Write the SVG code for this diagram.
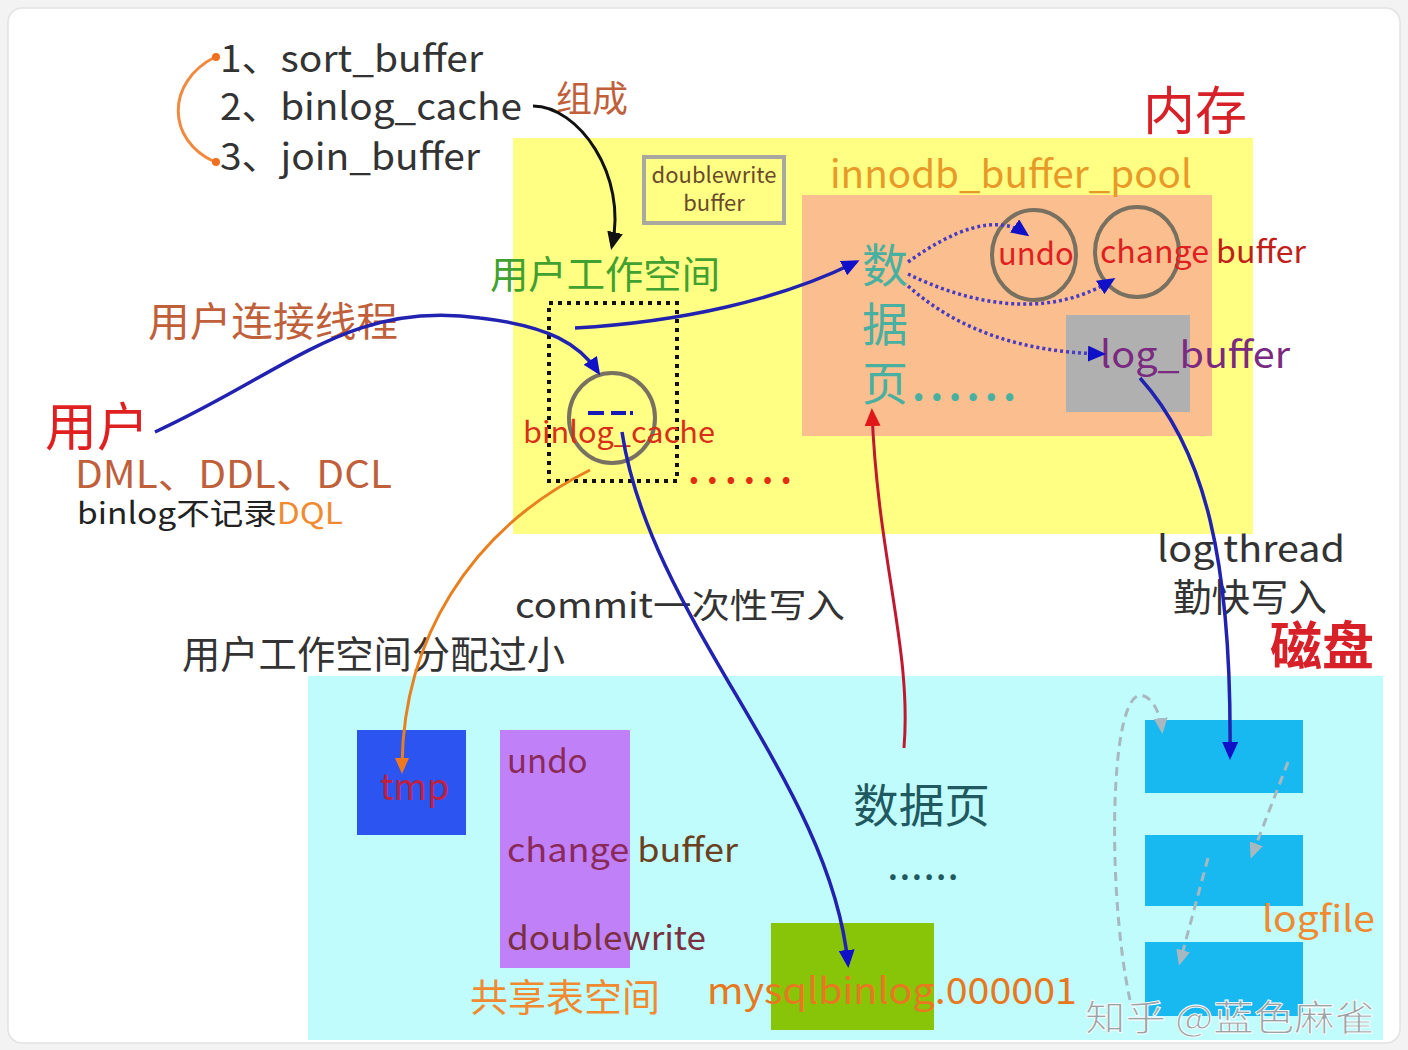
<svg xmlns="http://www.w3.org/2000/svg" width="1408" height="1050" viewBox="0 0 1408 1050">
<style>
text{font-family:"Noto Sans CJK SC","Noto Sans",sans-serif;}
.dk{fill:#333333}
.br{fill:#c0603a}
.rd{fill:#d82028}
.og{fill:#f08a30}
.blue{fill:none;stroke:#2222b0;stroke-width:3.5}
.dot{fill:none;stroke:#4a3cc0;stroke-width:3.5;stroke-dasharray:3 3}
.gd{fill:none;stroke:#a8b8c0;stroke-width:3;stroke-dasharray:9 6}
.ring{fill:none;stroke:#787060;stroke-width:4}
</style>
<defs>
<marker id="abig" markerWidth="18" markerHeight="16" refX="14" refY="8" orient="auto" markerUnits="userSpaceOnUse" viewBox="0 0 18 16"><path d="M0,0 L18,8 L0,16 z" fill="#1010c8"/></marker>
<marker id="ak" markerWidth="18" markerHeight="16" refX="14" refY="8" orient="auto" markerUnits="userSpaceOnUse" viewBox="0 0 18 16"><path d="M0,0 L18,8 L0,16 z" fill="#111111"/></marker>
<marker id="ao" markerWidth="16" markerHeight="14" refX="12" refY="7" orient="auto" markerUnits="userSpaceOnUse" viewBox="0 0 16 14"><path d="M0,0 L16,7 L0,14 z" fill="#f07820"/></marker>
<marker id="ar" markerWidth="18" markerHeight="16" refX="14" refY="8" orient="auto" markerUnits="userSpaceOnUse" viewBox="0 0 18 16"><path d="M0,0 L18,8 L0,16 z" fill="#e01818"/></marker>
<marker id="ag" markerWidth="16" markerHeight="14" refX="12" refY="7" orient="auto" markerUnits="userSpaceOnUse" viewBox="0 0 16 14"><path d="M0,0 L16,7 L0,14 z" fill="#a8b8c0"/></marker>
</defs>
<rect x="0" y="0" width="1408" height="1050" fill="#f3f3f3"/>
<rect x="8" y="8" width="1392" height="1035" rx="14" fill="#ffffff" stroke="#e2e2e2" stroke-width="1.5"/>

<g id="memory">
<rect x="513" y="138" width="740" height="396" fill="#ffff84"/>
<text x="1143" y="130" font-size="52" class="rd">内存</text>
</g>
<g id="doublewrite-buffer">
<rect x="644" y="157" width="140" height="66" fill="#ffff84" stroke="#a8a8a0" stroke-width="4"/>
<text x="714" y="183" font-size="22" fill="#6a4a2a" text-anchor="middle">doublewrite</text>
<text x="714" y="211" font-size="22" fill="#6a4a2a" text-anchor="middle">buffer</text>
</g>
<g id="buffer-pool">
<rect x="802" y="195" width="410" height="241" fill="#fbbe8e"/>
<text x="830" y="188" font-size="38" fill="#e89a28" textLength="362" lengthAdjust="spacingAndGlyphs">innodb_buffer_pool</text>
</g>
<g id="data-page-mem">
<text x="862" y="282" font-size="46" fill="#48b0a0">数</text>
<text x="862" y="341" font-size="46" fill="#48b0a0">据</text>
<text x="862" y="400" font-size="46" fill="#48b0a0">页</text>
<text x="912" y="400" font-size="40" font-weight="bold" fill="#48b0a0" textLength="104" lengthAdjust="spacing">......</text>
</g>
<g id="undo-mem">
<ellipse cx="1034" cy="255" rx="42" ry="45" class="ring"/>
<text x="998" y="265" font-size="31" fill="#e02020">undo</text>
</g>
<g id="change-buffer-mem">
<ellipse cx="1137" cy="252" rx="42" ry="45" class="ring"/>
<text x="1100" y="263" font-size="31" fill="#e02020" textLength="206" lengthAdjust="spacingAndGlyphs">change <tspan fill="#c02018">buffer</tspan></text>
</g>
<g id="log-buffer">
<rect x="1066" y="315" width="124" height="97" fill="#b0b0b0"/>
<text x="1100" y="368" font-size="37" fill="#7a2a80" textLength="190" lengthAdjust="spacingAndGlyphs">log_buffer</text>
</g>
<g id="user-workspace">
<text x="490" y="288" font-size="38" fill="#40a030" textLength="230" lengthAdjust="spacingAndGlyphs">用户工作空间</text>
<rect x="549" y="303" width="128" height="178" fill="none" stroke="#111" stroke-width="4" stroke-dasharray="4 5"/>
<text x="688" y="484" font-size="36" font-weight="bold" fill="#e03010" textLength="104" lengthAdjust="spacing">......</text>
</g>
<g id="binlog-cache">
<ellipse cx="612" cy="418" rx="43" ry="45" class="ring"/>
<path d="M588,413 H604 M611,413 H626 M630,413 H633" stroke="#1818b8" stroke-width="4" fill="none"/>
<text x="523" y="443" font-size="30" fill="#d83018" textLength="192" lengthAdjust="spacingAndGlyphs">binlog_cache</text>
</g>
<g id="buffers-list">
<text x="220" y="72" font-size="37" class="dk" textLength="263" lengthAdjust="spacingAndGlyphs">1、sort_buffer</text>
<text x="220" y="120" font-size="37" class="dk" textLength="302" lengthAdjust="spacingAndGlyphs">2、binlog_cache</text>
<text x="220" y="170" font-size="37" class="dk" textLength="260" lengthAdjust="spacingAndGlyphs">3、join_buffer</text>
<text x="556" y="112" font-size="36" class="br">组成</text>
</g>
<g id="user">
<text x="45" y="446" font-size="52" fill="#e02020">用户</text>
<text x="75" y="488" font-size="38" class="br" textLength="317" lengthAdjust="spacingAndGlyphs">DML、DDL、DCL</text>
<text x="77" y="524" font-size="30" fill="#222" textLength="266" lengthAdjust="spacingAndGlyphs">binlog不记录<tspan class="og">DQL</tspan></text>
<text x="148" y="336" font-size="40" class="br" textLength="250" lengthAdjust="spacingAndGlyphs">用户连接线程</text>
</g>
<g id="labels">
<text x="515" y="618" font-size="34" class="dk" textLength="330" lengthAdjust="spacingAndGlyphs">commit一次性写入</text>
<text x="182" y="668" font-size="38" class="dk" textLength="383" lengthAdjust="spacingAndGlyphs">用户工作空间分配过小</text>
<text x="1157" y="562" font-size="36" class="dk" textLength="188" lengthAdjust="spacingAndGlyphs">log thread</text>
<text x="1173" y="611" font-size="38" class="dk" textLength="154" lengthAdjust="spacingAndGlyphs">勤快写入</text>
</g>
<g id="disk">
<rect x="308" y="676" width="1075" height="364" fill="#c0fcfc"/>
<text x="1270" y="665" font-size="52" class="rd" font-weight="bold">磁盘</text>
</g>
<g id="tmp">
<rect x="357" y="730" width="109" height="105" fill="#2c54f0"/>
<text x="380" y="800" font-size="36" fill="#c02040">tmp</text>
</g>
<g id="shared-tablespace">
<rect x="500" y="730" width="130" height="238" fill="#c080f8"/>
<text x="507" y="773" font-size="33" fill="#8a2a5a">undo</text>
<text x="507" y="862" font-size="33" fill="#8a2a5a" textLength="231" lengthAdjust="spacingAndGlyphs">change <tspan fill="#6a4020">buffer</tspan></text>
<text x="507" y="950" font-size="33" fill="#7a3040" textLength="199" lengthAdjust="spacingAndGlyphs">doublewrite</text>
<text x="470" y="1011" font-size="38" class="og" textLength="190" lengthAdjust="spacingAndGlyphs">共享表空间</text>
</g>
<g id="data-page-disk">
<text x="853" y="822" font-size="46" fill="#205a60" textLength="137" lengthAdjust="spacingAndGlyphs">数据页</text>
<text x="888" y="880" font-size="30" font-weight="bold" fill="#205a60" textLength="70" lengthAdjust="spacing">......</text>
</g>
<g id="binlog-file">
<rect x="771" y="923" width="163" height="107" fill="#88c408"/>
<text x="707" y="1004" font-size="36" fill="#e87820" textLength="370" lengthAdjust="spacingAndGlyphs">mysqlbinlog.000001</text>
</g>
<g id="logfile">
<rect x="1145" y="720" width="158" height="73" fill="#18b8f0"/>
<rect x="1145" y="835" width="158" height="71" fill="#18b8f0"/>
<rect x="1145" y="942" width="158" height="74" fill="#18b8f0"/>
<text x="1262" y="932" font-size="36" class="og" textLength="113" lengthAdjust="spacingAndGlyphs">logfile</text>
</g>

<g id="connectors">
<path d="M215,57 C166,82 166,140 215,162" fill="none" stroke="#f08a40" stroke-width="3"/>
<circle cx="216" cy="57" r="4" fill="#f07020"/>
<circle cx="216" cy="162" r="4" fill="#f07020"/>
<path d="M533,106 C578,106 628,175 612,246" fill="none" stroke="#111" stroke-width="3" marker-end="url(#ak)"/>
<path d="M155,432 C290,370 350,300 480,318 C550,326 580,345 598,372" class="blue" marker-end="url(#abig)"/>
<path d="M575,328 C680,322 780,300 856,262" class="blue" marker-end="url(#abig)"/>
<path d="M622,432 C650,620 830,780 848,964" class="blue" marker-end="url(#abig)"/>
<path d="M1140,378 C1205,450 1232,560 1230,756" class="blue" marker-end="url(#abig)"/>
<path d="M590,470 C470,530 402,640 402,770" fill="none" stroke="#e88020" stroke-width="3" marker-end="url(#ao)"/>
<path d="M904,748 C912,650 878,560 872,412" fill="none" stroke="#c01830" stroke-width="3" marker-end="url(#ar)"/>
<path d="M908,262 C950,232 995,212 1026,234" class="dot" marker-end="url(#abig)"/>
<path d="M908,274 C965,302 1045,322 1112,280" class="dot" marker-end="url(#abig)"/>
<path d="M908,286 C960,332 1025,352 1102,354" class="dot" marker-end="url(#abig)"/>
<path d="M1130,1000 C1108,900 1108,700 1140,695 C1152,696 1160,712 1162,730" class="gd" marker-end="url(#ag)"/>
<path d="M1288,762 L1252,855" class="gd" marker-end="url(#ag)"/>
<path d="M1208,858 L1180,962" class="gd" marker-end="url(#ag)"/>
</g>
<g id="watermark">
<text x="1085" y="1031" font-size="36" fill="#9aa4a8" stroke="#ffffff" stroke-width="0.8" textLength="290" lengthAdjust="spacingAndGlyphs">知乎 @蓝色麻雀</text>
</g>
</svg>
